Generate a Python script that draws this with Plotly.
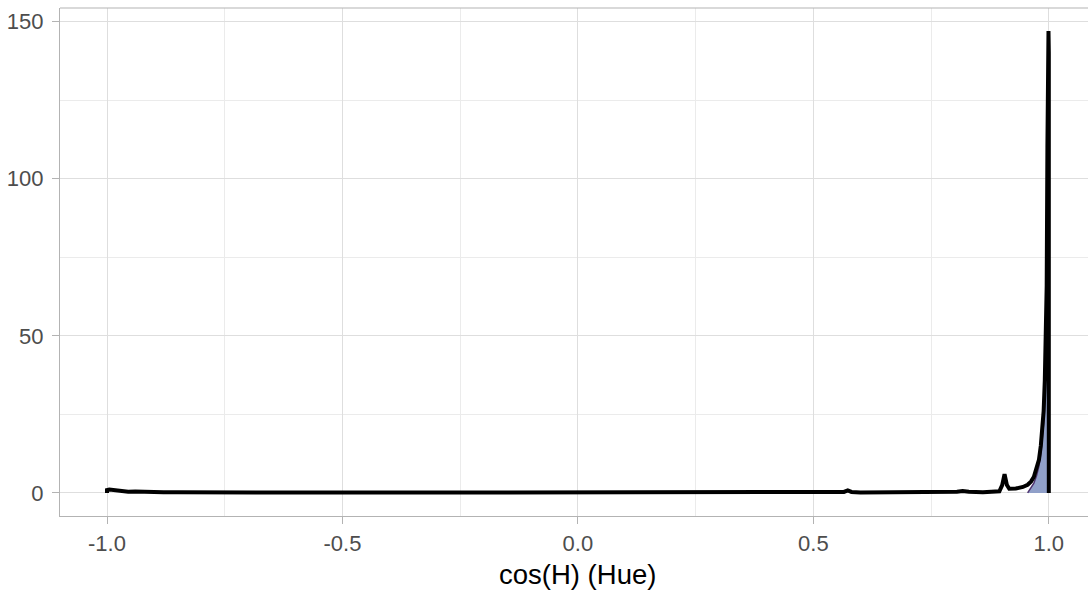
import plotly.graph_objects as go

# Density of cos(H) for the full sample (black outline)
main_x = [-1.0, -1.0, -0.995, -0.99, -0.982, -0.97, -0.955, -0.94, -0.92, -0.9, -0.88,
          -0.85, -0.8, -0.7, -0.55, -0.4, -0.25, -0.1, 0.0, 0.15, 0.3, 0.45, 0.55,
          0.565, 0.573, 0.581, 0.6, 0.7, 0.78, 0.805, 0.817, 0.83, 0.86, 0.88, 0.895,
          0.901, 0.906, 0.911, 0.916, 0.93, 0.945, 0.955, 0.962, 0.968, 0.974, 0.979,
          0.983, 0.986, 0.989, 0.9915, 0.994, 0.9955, 0.997, 0.998, 0.9993, 1.0, 1.0]
main_y = [0.0, 0.9, 1.1, 1.0, 0.7, 0.5, 0.4, 0.45, 0.3, 0.35, 0.2,
          0.2, 0.15, 0.15, 0.12, 0.1, 0.12, 0.1, 0.12, 0.1, 0.12, 0.1, 0.1,
          0.3, 0.8, 0.3, 0.1, 0.1, 0.15, 0.4, 0.6, 0.35, 0.2, 0.3, 0.5,
          2.5, 6.0, 2.5, 1.3, 1.4, 1.9, 2.6, 3.6, 5.0, 7.5, 10.5,
          15.0, 20.0, 26.0, 36.0, 50.0, 66.0, 110.0, 147.0, 147.0, 140.0, 0.0]

# Density of cos(H) for the second group (filled)
group_x = [0.955, 0.962, 0.968, 0.974, 0.979, 0.983, 0.986, 0.989, 0.9915, 0.994,
           0.9955, 0.997, 0.999, 1.0, 1.0]
group_y = [0.0, 1.5, 3.0, 5.5, 8.5, 12.5, 17.0, 22.0, 30.0, 42.0,
           55.0, 62.0, 66.0, 66.0, 0.0]

x_ticks = [-1.0, -0.5, 0.0, 0.5, 1.0]
x_tick_labels = ["-1.0", "-0.5", "0.0", "0.5", "1.0"]
y_ticks = [0, 50, 100, 150]
y_tick_labels = ["0", "50", "100", "150"]

FONT = "Liberation Sans, Arial, sans-serif"
GRID = "#DEDEDE"
BORDER = "#B3B3B3"

fig = go.Figure()

fig.add_trace(go.Scatter(
    x=group_x, y=group_y, mode="lines", fill="tozeroy",
    fillcolor="rgba(138,155,198,0.95)",
    line=dict(color="#4F3470", width=1.5),
    showlegend=False, hoverinfo="skip",
))

fig.add_trace(go.Scatter(
    x=main_x, y=main_y, mode="lines",
    line=dict(color="#000000", width=4),
    showlegend=False,
))

fig.update_layout(
    width=1088, height=595,
    margin=dict(l=60, r=0, t=8, b=79),
    paper_bgcolor="white", plot_bgcolor="white",
    font=dict(family=FONT, size=22, color="#4D4D4D"),
    xaxis=dict(
        range=[-1.0998, 1.0832],
        tickvals=x_ticks, ticktext=x_tick_labels,
        ticks="outside", ticklen=7, tickwidth=1, tickcolor=BORDER,
        showgrid=True, gridcolor=GRID, gridwidth=1.2,
        minor=dict(tickvals=[-0.75, -0.25, 0.25, 0.75], showgrid=True,
                   gridcolor="#EBEBEB", gridwidth=1, ticks=""),
        showline=True, linecolor=BORDER, linewidth=1.2,
        zeroline=False,
        tickfont=dict(family=FONT, size=22, color="#4D4D4D"),
    ),
    yaxis=dict(
        range=[-7.35, 154.35],
        tickvals=y_ticks, ticktext=y_tick_labels,
        ticks="outside", ticklen=7, tickwidth=1, tickcolor=BORDER,
        showgrid=True, gridcolor=GRID, gridwidth=1.2,
        minor=dict(tickvals=[25, 75, 125], showgrid=True,
                   gridcolor="#EBEBEB", gridwidth=1, ticks=""),
        showline=True, linecolor=BORDER, linewidth=1.2,
        zeroline=False,
        ticklabelstandoff=4,
        tickfont=dict(family=FONT, size=22, color="#4D4D4D"),
    ),
    shapes=[dict(type="line", xref="paper", yref="paper", x0=0, x1=1, y0=1, y1=1,
                 line=dict(color=BORDER, width=1.2), layer="above")],
    annotations=[dict(text="cos(H) (Hue)", xref="x", yref="paper", x=0.0, y=-0.116,
                      showarrow=False, yanchor="middle", xanchor="center",
                      font=dict(family=FONT, size=27.5, color="#000000"))],
)

fig.write_html("out.html")
